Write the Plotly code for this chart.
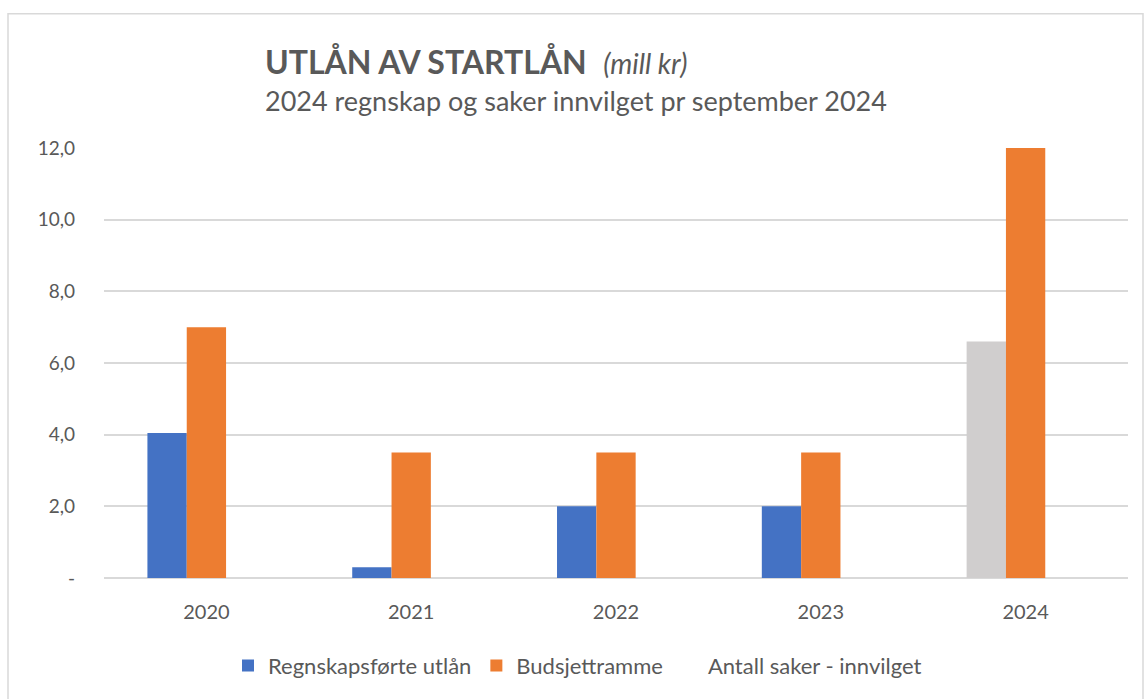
import plotly.graph_objects as go

years = ["2020", "2021", "2022", "2023", "2024"]
regnskap = [4.05, 0.3, 2.0, 2.0, 6.6]
budsjett = [7.0, 3.5, 3.5, 3.5, 12.0]
antall = [None, None, None, None, None]
ytick_vals = [0, 2, 4, 6, 8, 10, 12]
ytick_text = ["-", "2,0", "4,0", "6,0", "8,0", "10,0", "12,0"]

BLUE = "#4472C4"
ORANGE = "#ED7D31"
GRAY = "#D0CECE"
TXT = "#595959"
FONT = "Lato"

W, H = 1144, 699
L, R, T, B = 104, 16, 148, 115
pw, ph = W - L - R, H - T - B

def px(x):
    return (x - L) / pw

def py(y):
    return (H - B - y) / ph

blue_colors = [BLUE] * (len(years) - 1) + [GRAY]

fig = go.Figure()
fig.add_trace(go.Bar(x=years, y=regnskap, name="Regnskapsførte utlån",
                     marker=dict(color=blue_colors, line=dict(width=0))))
fig.add_trace(go.Bar(x=years, y=budsjett, name="Budsjettramme",
                     marker=dict(color=ORANGE, line=dict(width=0))))
fig.add_trace(go.Bar(x=years, y=antall, name="Antall saker - innvilget",
                     marker=dict(color="rgba(0,0,0,0)", line=dict(width=0))))

fig.update_layout(
    width=W, height=H,
    margin=dict(l=L, r=R, t=T, b=B, pad=0),
    paper_bgcolor="white", plot_bgcolor="white",
    barmode="group", bargap=0.424, bargroupgap=0,
    font=dict(family=FONT, color=TXT, size=18),
    showlegend=True,
    legend=dict(orientation="h", x=px(228), xanchor="left", y=py(673), yanchor="middle",
                font=dict(size=22, color=TXT), bgcolor="rgba(0,0,0,0)",
                traceorder="normal", itemwidth=30),
    xaxis=dict(showgrid=False, showline=False, ticks="", tickfont=dict(size=20, color=TXT),
               ticklabelstandoff=20),
    yaxis=dict(range=[0, 12], tickvals=ytick_vals, ticktext=ytick_text,
               showgrid=True, gridcolor="#D9D9D9", gridwidth=1.5,
               zeroline=True, zerolinecolor="#D9D9D9", zerolinewidth=1.5,
               showline=False, ticks="", tickfont=dict(size=19, color=TXT),
               ticklabelstandoff=28),
    annotations=[
        dict(text="<b>UTLÅN AV STARTLÅN</b>  <span style='font-size:28px'><i>(mill kr)</i></span>",
             xref="paper", yref="paper", x=px(263), y=py(60), xanchor="left", yanchor="middle",
             showarrow=False, font=dict(size=32, color=TXT, family=FONT)),
        dict(text="2024 regnskap og saker innvilget pr september 2024",
             xref="paper", yref="paper", x=px(263), y=py(100), xanchor="left", yanchor="middle",
             showarrow=False, font=dict(size=27, color=TXT, family=FONT)),
    ],
    shapes=[
        dict(type="rect", xref="paper", yref="paper",
             x0=px(8), x1=px(1143), y0=py(720), y1=py(12),
             line=dict(color="#D9D9D9", width=1.5), fillcolor="rgba(0,0,0,0)", layer="below"),
    ],
)

fig.write_html("out.html", config={"displayModeBar": False},
               post_script="document.body.style.margin='0';document.body.style.overflow='hidden';")
